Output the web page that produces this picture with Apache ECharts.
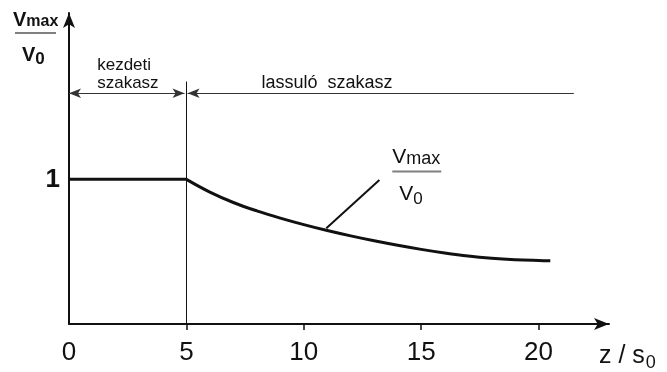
<!DOCTYPE html>
<html>
<head>
<meta charset="utf-8">
<script src="https://cdn.jsdelivr.net/npm/echarts@6/dist/echarts.min.js"></script>
<style>
  html, body { margin: 0; padding: 0; background: #fff; }
  #chart { width: 667px; height: 372px; }
</style>
</head>
<body>
<div id="chart"></div>
<script>
// Core zone: the centreline velocity stays equal to the outlet velocity
const coreZ = [0, 5];
const coreRatio = [1, 1];
// Decaying zone: vmax / v0 against z / s0
const decayZ = [5, 6, 7, 8, 9, 10, 11, 12, 13, 14, 15, 16, 17, 18, 19, 20, 20.5];
const decayRatio = [1, 0.912, 0.84, 0.782, 0.732, 0.687, 0.646, 0.609, 0.575, 0.544, 0.516, 0.491, 0.47, 0.455, 0.445, 0.439, 0.437];
// Axis ticks and labels
const xTickValues = [5, 10, 15, 20];
const xLabelValues = [0, 5, 10, 15, 20];
const yLabelValues = [1];
// Zone boundaries and the level of the dimension row
const coreEnd = 5;
const decayZoneEnd = 21.5;
const zoneRowLevel = 1.595;
const boundaryTop = 1.676;
// Leader from the curve to its label
const leaderFrom = [10.96, 0.662];
const leaderTo = [13.22, 0.995];
const curveLabelAt = [13.77, 1.055];

const FONT = "'Liberation Sans', Arial, Helvetica, sans-serif";
const INK = '#111';

const chart = echarts.init(document.getElementById('chart'), null, { renderer: 'canvas' });

const toPairs = (xs, ys) => xs.map((x, i) => [x, ys[i]]);

chart.setOption({
  animation: false,
  backgroundColor: '#fff',
  grid: { left: 69, right: 58, top: 13, bottom: 47, containLabel: false },
  xAxis: {
    type: 'value',
    min: 0,
    max: 23,
    interval: 5,
    name: 'z / s{sub|0}',
    nameLocation: 'end',
    nameGap: -10,
    nameTextStyle: {
      color: INK,
      fontFamily: FONT,
      fontSize: 25,
      align: 'left',
      verticalAlign: 'top',
      padding: [16, 0, 0, 0],
      rich: {
        sub: { fontFamily: FONT, fontSize: 18, color: INK, padding: [14, 0, 0, 1] }
      }
    },
    axisLine: {
      show: true,
      symbol: ['none', 'arrow'],
      symbolSize: [9, 15],
      lineStyle: { color: INK, width: 2 }
    },
    axisTick: {
      show: true,
      inside: false,
      length: 6,
      customValues: xTickValues,
      lineStyle: { color: INK, width: 1.5 }
    },
    axisLabel: {
      show: true,
      margin: 16,
      customValues: xLabelValues,
      color: INK,
      fontFamily: FONT,
      fontSize: 26
    },
    splitLine: { show: false }
  },
  yAxis: {
    type: 'value',
    min: 0,
    max: 2.15,
    interval: 1,
    axisLine: {
      show: true,
      symbol: ['none', 'arrow'],
      symbolSize: [9, 15],
      lineStyle: { color: INK, width: 2 }
    },
    axisTick: { show: false },
    axisLabel: {
      show: true,
      margin: 9,
      customValues: yLabelValues,
      color: INK,
      fontFamily: FONT,
      fontSize: 26,
      fontWeight: 'bold'
    },
    splitLine: { show: false }
  },
  series: [
    {
      name: 'core',
      type: 'line',
      data: toPairs(coreZ, coreRatio),
      showSymbol: false,
      symbol: 'none',
      lineStyle: { color: INK, width: 3 },
      silent: true,
      z: 3
    },
    {
      name: 'decay',
      type: 'line',
      data: toPairs(decayZ, decayRatio),
      smooth: 0.4,
      showSymbol: false,
      symbol: 'none',
      lineStyle: { color: INK, width: 3 },
      silent: true,
      z: 3,
      markLine: {
        silent: true,
        animation: false,
        label: { show: false },
        symbolSize: [7, 12],
        data: [
          // boundary between the two zones
          [
            { coord: [coreEnd, 0], symbol: 'none', lineStyle: { color: INK, width: 1, type: 'solid' } },
            { coord: [coreEnd, boundaryTop], symbol: 'none' }
          ],
          // extent of the core zone, arrows at both ends
          [
            { coord: [0, zoneRowLevel], symbol: 'arrow', lineStyle: { color: '#333', width: 1.2, type: 'solid' } },
            { coord: [coreEnd - 0.08, zoneRowLevel], symbol: 'arrow' }
          ],
          // extent of the decaying zone
          [
            { coord: [coreEnd + 0.05, zoneRowLevel], symbol: 'arrow', lineStyle: { color: '#333', width: 1.2, type: 'solid' } },
            { coord: [decayZoneEnd, zoneRowLevel], symbol: 'none' }
          ],
          // leader to the curve label
          [
            { coord: leaderFrom, symbol: 'none', lineStyle: { color: INK, width: 2, type: 'solid' } },
            { coord: leaderTo, symbol: 'none' }
          ]
        ]
      }
    }
  ]
});

// Text annotations placed from data coordinates
const px = (p) => chart.convertToPixel({ gridIndex: 0 }, p);

function fraction(left, lineY, opts) {
  const w = opts.width;
  return [
    {
      type: 'text',
      silent: true,
      style: {
        x: left + opts.topShift, y: lineY - opts.gapTop,
        text: '{v|V}{s|max}',
        align: 'left', verticalAlign: 'bottom',
        fill: INK,
        rich: {
          v: { fontFamily: FONT, fontSize: opts.vSize, fontWeight: opts.weight, fill: INK },
          s: { fontFamily: FONT, fontSize: opts.subSize, fontWeight: opts.weight, fill: INK, padding: [4, 0, 0, 0] }
        }
      }
    },
    {
      type: 'line',
      silent: true,
      shape: { x1: left, y1: lineY, x2: left + w, y2: lineY },
      style: { stroke: '#808080', lineWidth: 2 }
    },
    {
      type: 'text',
      silent: true,
      style: {
        x: left + opts.bottomShift, y: lineY + opts.gapBottom,
        text: '{v|V}{s|0}',
        align: 'left', verticalAlign: 'top',
        fill: INK,
        rich: {
          v: { fontFamily: FONT, fontSize: opts.vSize, fontWeight: opts.weight, fill: INK },
          s: { fontFamily: FONT, fontSize: opts.zeroSize, fontWeight: opts.weight, fill: INK, padding: [9, 0, 0, 0] }
        }
      }
    }
  ];
}

const coreLabel = px([1.2, zoneRowLevel]);
const decayLabel = px([8.2, zoneRowLevel]);
const curveLabel = px(curveLabelAt);

const graphics = [
  {
    type: 'text',
    silent: true,
    style: {
      x: coreLabel[0], y: coreLabel[1] - 1,
      text: 'kezdeti\nszakasz',
      align: 'left', verticalAlign: 'bottom',
      fontFamily: FONT, fontSize: 17, lineHeight: 18,
      fill: INK
    }
  },
  {
    type: 'text',
    silent: true,
    style: {
      x: decayLabel[0], y: decayLabel[1] - 1,
      text: 'lassuló  szakasz',
      align: 'left', verticalAlign: 'bottom',
      fontFamily: FONT, fontSize: 18,
      fill: INK
    }
  }
];

// axis title at the top of the vertical axis
graphics.push(...fraction(15, 33, {
  width: 41, topShift: -2, bottomShift: 7, gapTop: 3, gapBottom: 9,
  vSize: 20, subSize: 16, zeroSize: 17, weight: 'bold'
}));
// label of the curve
graphics.push(...fraction(curveLabel[0], curveLabel[1], {
  width: 49, topShift: 0, bottomShift: 7, gapTop: 3, gapBottom: 10,
  vSize: 21, subSize: 18, zeroSize: 17, weight: 'normal'
}));

chart.setOption({ graphic: graphics });
</script>
</body>
</html>
